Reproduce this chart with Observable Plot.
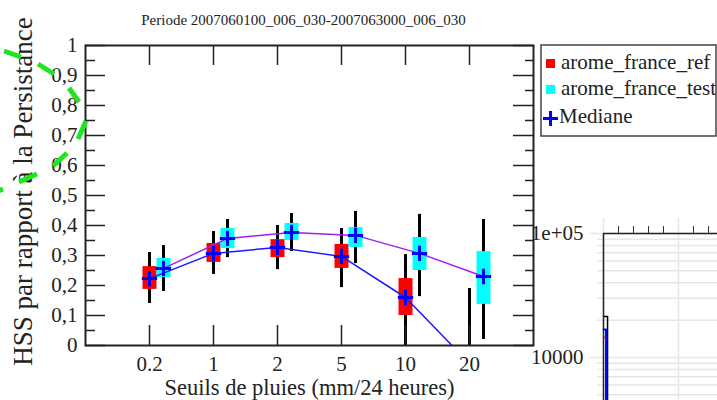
<!DOCTYPE html>
<html><head><meta charset="utf-8">
<script src="https://cdn.jsdelivr.net/npm/d3@7"></script>
<script src="https://cdn.jsdelivr.net/npm/@observablehq/plot@0.6"></script>
<style>
body{margin:0;background:#fff;}
#wrap{position:relative;width:717px;height:400px;overflow:hidden;background:#fff;}
#wrap > svg{position:absolute;overflow:visible;}
</style></head><body><div id="wrap"></div>
<script>
// ---- data ----
const categories = ["0.2","1","2","5","10","20"];
const refQ1  = [0.187, 0.277, 0.293, 0.257, 0.100, -0.15];
const refQ3  = [0.263, 0.340, 0.353, 0.337, 0.223, -0.01];
const refMed = [0.223, 0.307, 0.327, 0.297, 0.160, -0.06];
const refLo  = [0.140, 0.237, 0.253, 0.193, -0.05, -0.30];
const refHi  = [0.310, 0.380, 0.400, 0.390, 0.303, 0.190];
const testQ1  = [0.227, 0.323, 0.350, 0.327, 0.250, 0.137];
const testQ3  = [0.290, 0.390, 0.407, 0.393, 0.360, 0.313];
const testMed = [0.257, 0.357, 0.377, 0.367, 0.307, 0.230];
const testLo  = [0.180, 0.293, 0.313, 0.273, 0.163, 0.020];
const testHi  = [0.333, 0.420, 0.440, 0.447, 0.437, 0.420];
const yMajor = d3.range(0, 11).map(i => i / 10);
const yMinor = d3.range(0, 10).map(i => i / 10 + 0.05);
const legendNames = ["arome_france_ref", "arome_france_test", "Mediane"];
const title = "Periode 2007060100_006_030-2007063000_006_030";
const yTitle = "HSS par rapport à la Persistance";
const xTitle = "Seuils de pluies (mm/24 heures)";

// second (partial) panel
const p2YTicks = [1e4, 1e5];
const p2Grid = [2e3,3e3,4e3,5e3,6e3,7e3,8e3,9e3,2e4,3e4,4e4,5e4,6e4,7e4,8e4,9e4];
const p2XTicks = [1, 2, 3, 4, 6, 7];
const p2XGrid = [0, 5];
const p2StepX = [0, 0.27, 0.27];
const p2StepY = [21400, 21400, 1000];
const p2BlueX = [0, 0.17, 0.17];
const p2BlueY = [16800, 16800, 1000];
const p2RedX = [0.1];
const p2RedY = [14500];

// decoration: green dashed arc (pixel segments)
const arcDashes = [[-15,197,3,189],[19,182,37,174],[53,166,67,153],[78,139,86,121],[79,102,69,88],[54,74,38,64],[21,57,4,51]];

const mk = (q1,q3,med,lo,hi) => categories.map((c,i)=>({cat:c,q1:q1[i],q3:q3[i],med:med[i],lo:lo[i],hi:hi[i]}));
const ref = mk(refQ1, refQ3, refMed, refLo, refHi);
const test = mk(testQ1, testQ3, testMed, testLo, testHi);
const OFF = 14;
const FONT = "Liberation Serif";
const ink = "#222";

const main = Plot.plot({
  width: 717, height: 400,
  marginTop: 45, marginBottom: 55, marginLeft: 85, marginRight: 184,
  style: {fontFamily: FONT, fontSize: "21px", background: "transparent", color: ink, overflow: "visible"},
  x: {type: "point", domain: categories, padding: 0.98},
  y: {domain: [0, 1]},
  marks: [
    // whiskers
    Plot.ruleX(ref, {x: "cat", y1: "lo", y2: "hi", stroke: "#000", strokeWidth: 3, clip: true}),
    Plot.ruleX(test, {x: "cat", y1: "lo", y2: "hi", dx: OFF, stroke: "#000", strokeWidth: 3, clip: true}),
    // boxes
    Plot.ruleX(ref, {x: "cat", y1: "q1", y2: "q3", stroke: "#ff0000", strokeWidth: 14, clip: true}),
    Plot.ruleX(test, {x: "cat", y1: "q1", y2: "q3", dx: OFF, stroke: "#00ffff", strokeWidth: 14, clip: true}),
    // median lines
    Plot.line(ref, {x: "cat", y: "med", stroke: "#1a1aff", strokeWidth: 1.5, clip: true}),
    Plot.line(test, {x: "cat", y: "med", dx: OFF, stroke: "#a020f0", strokeWidth: 1.5, clip: true}),
    // median crosses
    Plot.dot(ref, {x: "cat", y: "med", symbol: "plus", r: 5, stroke: "#0000ff", strokeWidth: 3, clip: true}),
    Plot.dot(test, {x: "cat", y: "med", dx: OFF, symbol: "plus", r: 5, stroke: "#0000ff", strokeWidth: 3, clip: true}),
    // inward ticks
    Plot.ruleY(yMajor, {insetRight: 428, stroke: ink, strokeWidth: 1.5}),
    Plot.ruleY(yMinor, {insetRight: 438, stroke: ink, strokeWidth: 1.5}),
    Plot.ruleY(yMajor, {insetLeft: 428, stroke: ink, strokeWidth: 1.5}),
    Plot.ruleY(yMinor, {insetLeft: 440, stroke: ink, strokeWidth: 1.5}),
    Plot.ruleX(categories, {insetBottom: 280, stroke: ink, strokeWidth: 1.5}),
    Plot.ruleX(categories, {insetTop: 280, stroke: ink, strokeWidth: 1.5}),
    Plot.frame({stroke: ink, strokeWidth: 2}),
    Plot.axisY({ticks: yMajor, tickSize: 0, tickPadding: 8, label: null, fontSize: 21,
      tickFormat: d => d3.format(".1~f")(d).replace(".", ",")}),
    Plot.axisX({tickSize: 0, tickPadding: 11, label: null, fontSize: 21}),
    Plot.text([title], {frameAnchor: "top", lineAnchor: "middle", textAnchor: "middle", dy: -25, dx: -6, fontSize: 15, fill: ink}),
    Plot.text([yTitle], {frameAnchor: "left", lineAnchor: "middle", textAnchor: "middle", dx: -62, dy: -4, rotate: -90, fontSize: 27, fill: ink}),
    Plot.text([xTitle], {frameAnchor: "bottom", lineAnchor: "middle", textAnchor: "middle", dy: 42, fontSize: 22.5, fill: ink})
  ]
});
main.style.left = "0px"; main.style.top = "0px";

const p2 = Plot.plot({
  width: 187, height: 290,
  marginTop: 23, marginBottom: 19, marginLeft: 73, marginRight: 0,
  style: {fontFamily: FONT, fontSize: "21px", background: "transparent", color: ink, overflow: "visible"},
  x: {domain: [0, 114 / 15]},
  y: {type: "log", domain: [1e3, 1e5]},
  marks: [
    Plot.ruleY(p2Grid, {stroke: "#e6e6e6", strokeWidth: 1.5, insetLeft: -6}),
    Plot.ruleY([1e4], {stroke: "#e6e6e6", strokeWidth: 1.5, insetLeft: -14}),
    Plot.ruleY([1e5], {stroke: "#e6e6e6", strokeWidth: 1.5, insetLeft: -14}),
    Plot.ruleX(p2XGrid, {stroke: "#e6e6e6", strokeWidth: 1.5, insetTop: -15}),
    Plot.axisX({anchor: "top", ticks: p2XTicks, tickSize: 8, tickFormat: () => "", label: null, stroke: "#333"}),
    Plot.axisY({ticks: p2YTicks, tickSize: 0, tickPadding: 20, label: null, fontSize: 21,
      tickFormat: d => d === 1e5 ? "1e+05" : "10000"}),
    Plot.line(p2StepX.map((x, i) => ({x, y: p2StepY[i]})), {x: "x", y: "y", stroke: "#000", strokeWidth: 1.5}),
    Plot.line(p2BlueX.map((x, i) => ({x, y: p2BlueY[i]})), {x: "x", y: "y", stroke: "#0000ff", strokeWidth: 2}),
    Plot.dot(p2RedX.map((x, i) => ({x, y: p2RedY[i]})), {x: "x", y: "y", r: 1, fill: "#ff0000"}),
    Plot.ruleY([1e5], {stroke: ink, strokeWidth: 1.5}),
    Plot.ruleX([0], {stroke: ink, strokeWidth: 1.5})
  ]
});
p2.style.left = "530px"; p2.style.top = "210px";

const wrap = document.getElementById("wrap");
wrap.appendChild(p2);
wrap.appendChild(main);

// overlay: legend + green arc
const ov = d3.create("svg").attr("width", 717).attr("height", 400).style("left", "0px").style("top", "0px");
const lg = ov.append("g").attr("font-family", FONT).attr("font-size", 21).attr("fill", ink);
lg.append("rect").attr("x", 541).attr("y", 45).attr("width", 175).attr("height", 91)
  .attr("fill", "#fff").attr("stroke", "#444").attr("stroke-width", 1.5);
lg.append("rect").attr("x", 546).attr("y", 59).attr("width", 9).attr("height", 9).attr("fill", "#ff0000");
lg.append("rect").attr("x", 546).attr("y", 85).attr("width", 9).attr("height", 9).attr("fill", "#00ffff");
lg.append("path").attr("d", "M543,118.5H558M550.5,111V126").attr("stroke", "#0000ff").attr("stroke-width", 3);
lg.append("text").attr("x", 561).attr("y", 69).text(legendNames[0]);
lg.append("text").attr("x", 561).attr("y", 95).text(legendNames[1]);
lg.append("text").attr("x", 559).attr("y", 123).text(legendNames[2]);
ov.append("g").selectAll("line").data(arcDashes).join("line")
  .attr("x1", d => d[0]).attr("y1", d => d[1]).attr("x2", d => d[2]).attr("y2", d => d[3])
  .attr("stroke", "#1fe51f").attr("stroke-width", 5);
wrap.appendChild(ov.node());
</script></body></html>
